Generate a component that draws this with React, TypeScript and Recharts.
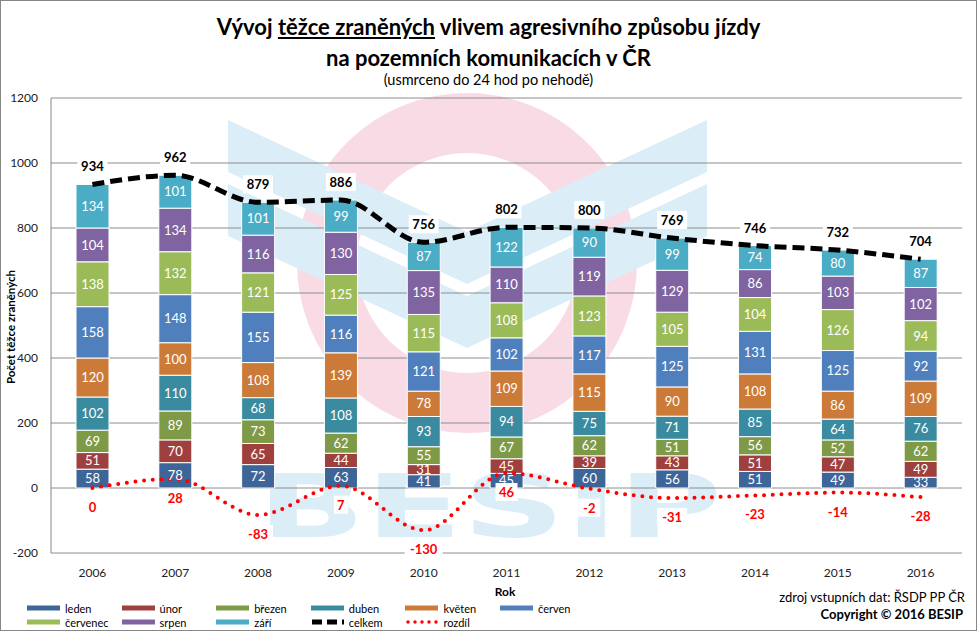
import React from 'react';
import {
  ComposedChart, Bar, Line, XAxis, YAxis, CartesianGrid, LabelList,
} from 'recharts';

const years = ['2006', '2007', '2008', '2009', '2010', '2011', '2012', '2013', '2014', '2015', '2016'];
const leden = [58, 78, 72, 63, 41, 45, 60, 56, 51, 49, 33];
const unor = [51, 70, 65, 44, 31, 45, 39, 43, 51, 47, 49];
const brezen = [69, 89, 73, 62, 55, 67, 62, 51, 56, 52, 62];
const duben = [102, 110, 68, 108, 93, 94, 75, 71, 85, 64, 76];
const kveten = [120, 100, 108, 139, 78, 109, 115, 90, 108, 86, 109];
const cerven = [158, 148, 155, 116, 121, 102, 117, 125, 131, 125, 92];
const cervenec = [138, 132, 121, 125, 115, 108, 123, 105, 104, 126, 94];
const srpen = [104, 134, 116, 130, 135, 110, 119, 129, 86, 103, 102];
const zari = [134, 101, 101, 99, 87, 122, 90, 99, 74, 80, 87];
const celkem = [934, 962, 879, 886, 756, 802, 800, 769, 746, 732, 704];
const rozdil = [0, 28, -83, 7, -130, 46, -2, -31, -23, -14, -28];
const yTicks = [-200, 0, 200, 400, 600, 800, 1000, 1200];

const monthSeries = [
  { key: 'leden', name: 'leden', color: '#3e6598', values: leden },
  { key: 'unor', name: 'únor', color: '#9e403e', values: unor },
  { key: 'brezen', name: 'březen', color: '#7f9a46', values: brezen },
  { key: 'duben', name: 'duben', color: '#3a8ba0', values: duben },
  { key: 'kveten', name: 'květen', color: '#cc7a38', values: kveten },
  { key: 'cerven', name: 'červen', color: '#4f80bd', values: cerven },
  { key: 'cervenec', name: 'červenec', color: '#9bbb59', values: cervenec },
  { key: 'srpen', name: 'srpen', color: '#8064a2', values: srpen },
  { key: 'zari', name: 'září', color: '#4bacc6', values: zari },
];

const data = years.map((year, i) => {
  const row: Record<string, any> = { year, celkem: celkem[i], rozdil: rozdil[i] };
  monthSeries.forEach((s) => { row[s.key] = s.values[i]; });
  return row;
});

const FONT = "Lato, 'Open Sans', sans-serif";

const TotalLabel = (props: any) => {
  const { x, y, value } = props;
  const cy = y - 18;
  const w = String(value).length * 8 + 6;
  return (
    <g>
      <rect x={x - w / 2} y={cy - 9} width={w} height={18} fill="#ffffff" />
      <text x={x} y={cy} textAnchor="middle" dominantBaseline="central" fontSize={13} fontWeight="bold" fill="#000" fontFamily={FONT}>
        {value}
      </text>
    </g>
  );
};

const DiffLabel = (props: any) => {
  const { x, y, value } = props;
  const cy = y + 19;
  const w = String(value).length * 8 + 6;
  return (
    <g>
      <rect x={x - w / 2} y={cy - 9} width={w} height={18} fill="#ffffff" />
      <text x={x} y={cy} textAnchor="middle" dominantBaseline="central" fontSize={13} fontWeight="bold" fill="#ff0000" fontFamily={FONT}>
        {value}
      </text>
    </g>
  );
};

const legendItems = [
  ...monthSeries.map((s) => ({ name: s.name, color: s.color, kind: 'bar' })),
  { name: 'celkem', color: '#000', kind: 'dash' },
  { name: 'rozdíl', color: '#ff0000', kind: 'dot' },
];

const LegendBlock = () => (
  <div style={{ position: 'absolute', left: 0, top: 601, width: 977, height: 30 }}>
    {legendItems.map((it, i) => {
      const col = i % 6;
      const row = Math.floor(i / 6);
      const left = 27 + col * 94.6;
      const top = row * 14;
      return (
        <div key={it.name} style={{ position: 'absolute', left, top, height: 14, display: 'flex', alignItems: 'center', fontSize: 11, color: '#000', fontFamily: FONT, whiteSpace: 'nowrap' }}>
          <svg width={34} height={8} style={{ marginRight: 4 }}>
            {it.kind === 'bar' && <rect x={0} y={1.5} width={33} height={5} fill={it.color} />}
            {it.kind === 'dash' && <line x1={1} y1={4} x2={33} y2={4} stroke="#000" strokeWidth={5} strokeDasharray="10 5" />}
            {it.kind === 'dot' && <line x1={3} y1={4} x2={33} y2={4} stroke="#ff0000" strokeWidth={3.5} strokeDasharray="0 7" strokeLinecap="round" />}
          </svg>
          <span>{it.name}</span>
        </div>
      );
    })}
  </div>
);

const Watermark = () => (
  <svg width={977} height={631} style={{ position: 'absolute', left: 0, top: 0 }}>
    <circle cx={467} cy={263} r={140} fill="none" stroke="#f9dbe6" strokeWidth={60} />
    <polygon points="228,120 467,232 707,120 707,172 467,284 228,172" fill="#dbedf7" />
    <polygon points="228,184 467,296 707,184 707,236 467,348 228,236" fill="#dbedf7" />
    <text x={257} y={537} fontSize={88} fontWeight="bold" fill="#dbedf7" fontFamily="'DejaVu Sans', sans-serif" textLength={465} lengthAdjust="spacingAndGlyphs">
      BESIP
    </text>
  </svg>
);

export default function App() {
  return (
    <div style={{ position: 'absolute', left: 0, top: 0, width: 977, height: 631, background: '#fff', fontFamily: FONT, overflow: 'hidden' }}>
      <Watermark />
      <div style={{ position: 'absolute', left: 0, top: 0, width: 975, height: 629, border: '1px solid #868686' }} />
      <div style={{ position: 'absolute', left: 0, top: 11, width: 977, textAlign: 'center', fontSize: 22, fontWeight: 'bold', lineHeight: '31px', color: '#000' }}>
        <div>Vývoj <span style={{ textDecoration: 'underline' }}>těžce zraněných</span> vlivem agresivního způsobu jízdy</div>
        <div>na pozemních komunikacích v ČR</div>
      </div>
      <div style={{ position: 'absolute', left: 0, top: 71, width: 977, textAlign: 'center', fontSize: 14.5, color: '#000' }}>
        (usmrceno do 24 hod po nehodě)
      </div>
      <div style={{ position: 'absolute', left: 0, top: 0 }}>
        <ComposedChart width={977} height={631} data={data} margin={{ top: 98, right: 15, bottom: 48, left: 8 }} barSize={33}>
          <CartesianGrid vertical={false} stroke="#8c8c8c" strokeWidth={1} />
          <XAxis dataKey="year" axisLine={false} tickLine={false} tickMargin={9} tick={{ fontSize: 12, fill: '#222', fontFamily: FONT }} interval={0} />
          <YAxis
            domain={[-200, 1200]}
            ticks={yTicks}
            width={43}
            axisLine={{ stroke: '#868686' }}
            tickLine={false}
            tickMargin={7}
            interval={0}
            tick={{ fontSize: 12, fill: '#222', fontFamily: FONT }}
            label={{
              content: () => (
                <text x={10} y={327} transform="rotate(-90 10 327)" textAnchor="middle" dominantBaseline="central" fontSize={11.5} fontWeight="bold" fill="#000" fontFamily={FONT}>
                  Počet těžce zraněných
                </text>
              ),
            }}
          />
          {monthSeries.map((s) => (
            <Bar key={s.key} dataKey={s.key} name={s.name} stackId="m" fill={s.color} stroke="#ffffff" strokeWidth={1} isAnimationActive={false}>
              <LabelList dataKey={s.key} position="center" fill="#ffffff" fontSize={13} fontFamily={FONT} />
            </Bar>
          ))}
          <Line dataKey="celkem" name="celkem" type="monotone" stroke="#000" strokeWidth={5} strokeDasharray="12 6" dot={false} activeDot={false} isAnimationActive={false}>
            <LabelList dataKey="celkem" content={TotalLabel} />
          </Line>
          <Line dataKey="rozdil" name="rozdíl" type="monotone" stroke="#ff0000" strokeWidth={4} strokeDasharray="0 8.7" strokeLinecap="round" dot={false} activeDot={false} isAnimationActive={false}>
            <LabelList dataKey="rozdil" content={DiffLabel} />
          </Line>
        </ComposedChart>
      </div>
      <LegendBlock />
      <div style={{ position: 'absolute', left: 455, top: 584, width: 100, textAlign: 'center', fontSize: 12, fontWeight: 'bold' }}>Rok</div>
      <div style={{ position: 'absolute', right: 12, top: 589, fontSize: 13, color: '#000' }}>zdroj vstupních dat: ŘSDP PP ČR</div>
      <div style={{ position: 'absolute', right: 14, top: 606, fontSize: 13, fontWeight: 'bold', color: '#000' }}>Copyright © 2016 BESIP</div>
    </div>
  );
}
